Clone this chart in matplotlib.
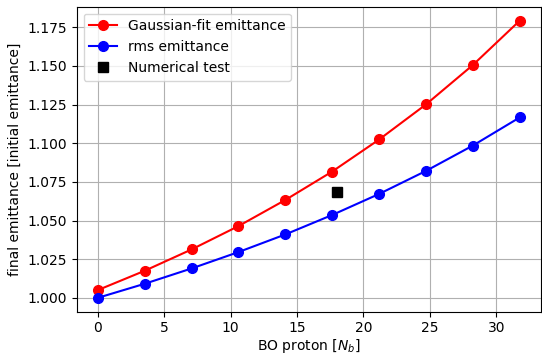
import numpy as np
import matplotlib
matplotlib.use("Agg")
import matplotlib.pyplot as plt

# bunch intensity in units of N_b
n_bo = [0.0, 3.53, 7.06, 10.59, 14.12, 17.65, 21.18, 24.71, 28.24, 31.77]
gauss_emit = [1.005, 1.0175, 1.0313, 1.0464, 1.0633, 1.0817, 1.1024, 1.1251, 1.1506, 1.1793]
rms_emit = [1.000, 1.0091, 1.0190, 1.0296, 1.0410, 1.0536, 1.0672, 1.0821, 1.0985, 1.1167]
test_x = [17.98]
test_y = [1.0687]

fig = plt.figure(figsize=(5.42, 3.54), dpi=100)
ax = fig.add_subplot(111)
fig.subplots_adjust(left=0.1415, right=0.998, top=0.981, bottom=0.1195)

ax.plot(n_bo, gauss_emit, 'o-', color='red', ms=7, label='Gaussian-fit emittance')
ax.plot(n_bo, rms_emit, 'o-', color='blue', ms=7, label='rms emittance')
ax.plot(test_x, test_y, 's', color='black', ms=7, label='Numerical test')

ax.set_xlabel(r'BO proton [$N_b$]', labelpad=1)
ax.set_ylabel('final emittance [initial emittance]')
ax.grid(True)
ax.legend(loc='upper left')

fig.savefig('out.png', dpi=100)
